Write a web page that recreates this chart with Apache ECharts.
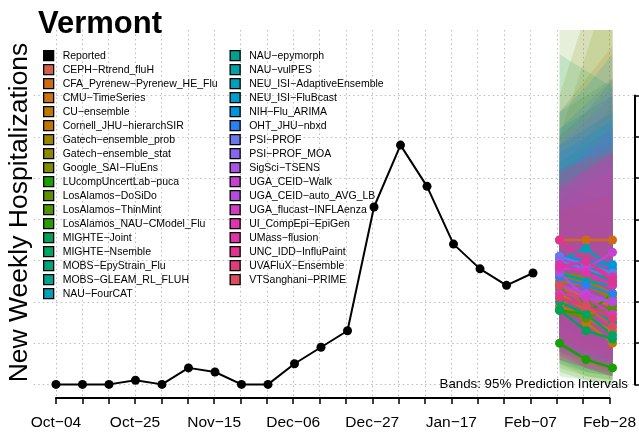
<!DOCTYPE html>
<html>
<head>
<meta charset="utf-8">
<script src="https://cdn.jsdelivr.net/npm/echarts@6/dist/echarts.min.js"></script>
<style>
html, body { margin: 0; padding: 0; background: #ffffff; }
#chart { width: 639px; height: 433px; }
</style>
</head>
<body>
<div id="chart"></div>
<script>
// Week labels (one per weekly tick on the x axis)
const weekLabels = ['Oct−04','Oct−11','Oct−18','Oct−25','Nov−01','Nov−08','Nov−15','Nov−22','Nov−29',
  'Dec−06','Dec−13','Dec−20','Dec−27','Jan−03','Jan−10','Jan−17','Jan−24','Jan−31','Feb−07',
  'Feb−14','Feb−21','Feb−28'];

// Reported weekly hospitalizations, starting at Oct−04
const reported = [0, 0, 0, 1, 0, 4, 3, 0, 0, 5, 9, 13, 43, 58, 48, 34, 28, 24, 27];

// Forecast target weeks (indices into weekLabels)
const forecastWeeks = [19, 20, 21];

// Models, in legend order
const models = [
  'CEPH−Rtrend_fluH','CFA_Pyrenew−Pyrenew_HE_Flu','CMU−TimeSeries','CU−ensemble','Cornell_JHU−hierarchSIR',
  'Gatech−ensemble_prob','Gatech−ensemble_stat','Google_SAI−FluEns','LUcompUncertLab−puca','LosAlamos−DoSiDo',
  'LosAlamos−ThinMint','LosAlamos_NAU−CModel_Flu','MIGHTE−Joint','MIGHTE−Nsemble','MOBS−EpyStrain_Flu',
  'MOBS−GLEAM_RL_FLUH','NAU−FourCAT',
  'NAU−epymorph','NAU−vulPES','NEU_ISI−AdaptiveEnsemble','NEU_ISI−FluBcast','NIH−Flu_ARIMA','OHT_JHU−nbxd',
  'PSI−PROF','PSI−PROF_MOA','SigSci−TSENS','UGA_CEID−Walk','UGA_CEID−auto_AVG_LB','UGA_flucast−INFLAenza',
  'UI_CompEpi−EpiGen','UMass−flusion','UNC_IDD−InfluPaint','UVAFluX−Ensemble','VTSanghani−PRIME'
];

// Median forecasts for Feb−14, Feb−21, Feb−28
const medians = [
  [24, 21, 19], [35, 35, 35], [19, 16, 13], [21, 15, 10], [22, 18, 15],
  [26, 25, 22], [25, 24, 21], [27, 26, 20], [10, 6, 4], [18, 16, 19],
  [23, 20, 18], [18, 17, 22], [18, 13, 11], [20, 17, 12], [28, 29, 26],
  [24, 19, 15], [30, 33, 28],
  [29, 28, 25], [27, 25, 24], [31, 30, 27], [29, 28, 26], [31, 30, 29], [26, 24, 22],
  [31, 29, 27], [30, 28, 26], [27, 21, 20], [28, 28, 32], [24, 22, 20], [22, 21, 17],
  [29, 27, 24], [28.5, 29.8, 26], [35, 30, 25], [21, 19, 16], [24, 19, 14]
];

// 95% prediction interval bounds
const lower95 = [
  [8, 5, 3], [15, 10, 8], [7, 4, 2], [8, 4, 2], [9, 6, 4],
  [10, 7, 5], [11, 8, 6], [9, 6, 3], [2, 1, 0], [4, 2, 1],
  [5, 2, 1], [3, 1, 0], [5, 3, 2], [6, 3, 2], [10, 9, 7],
  [9, 6, 4], [12, 11, 9],
  [10, 8, 6], [9, 7, 5], [10, 8, 6], [9, 7, 6], [8, 6, 4], [8, 6, 5],
  [10, 8, 6], [9, 7, 5], [8, 4, 3], [7, 6, 5], [6, 4, 2], [6, 4, 2],
  [9, 7, 5], [10, 9, 7], [11, 8, 6], [6, 4, 3], [7, 4, 2]
];
const upper95 = [
  [60, 66, 74], [66, 74, 82], [45, 50, 56], [48, 46, 44], [50, 54, 58],
  [70, 90, 110], [52, 60, 68], [60, 80, 100], [44, 42, 40], [66, 70, 74],
  [95, 92, 90], [62, 66, 70], [80, 76, 72], [58, 62, 66], [54, 58, 62],
  [52, 56, 60], [58, 62, 66],
  [54, 58, 62], [52, 56, 60], [56, 60, 64], [56, 60, 64], [66, 72, 80], [62, 68, 74],
  [60, 66, 72], [58, 64, 70], [48, 52, 56], [50, 56, 62], [46, 50, 54], [44, 48, 52],
  [48, 52, 56], [47, 52, 56], [52, 54, 56], [42, 44, 46], [52, 55, 58]
];

// Right-axis tick values
const yTicks = [0, 10, 20, 30, 40, 50, 60, 70];

// Palette, one colour per model
const modelColors = [
  '#D55E4A', '#CF6A14', '#C97214', '#BE7A00', '#C07600',
  '#9C8400', '#8E8700', '#7D8C00', '#17A100', '#5E9000',
  '#4E9400', '#2A9C00', '#00A25A', '#00A465', '#00A47A',
  '#00A48E', '#00A0B4',
  '#00A28F', '#00A2A5', '#00A0BA', '#009DCB', '#0096DD', '#2C7FF0',
  '#6A78EC', '#8766EE', '#A456E2', '#C543D0', '#B64BE0', '#D23BC4',
  '#DE34AF', '#DD35A6', '#E0358F', '#E03C77', '#DB4C5E'
];

const FONT = 'Liberation Sans, Arial, Helvetica, sans-serif';

// Plot region geometry
const plotLeft = 33.7, plotRight = 4.2, plotTop = 30, plotBottom = 35;
const xMin = -0.84, xMax = 21.84;
const yMin = -3.3, yMax = 85.9;
const pxPerWeek = (639 - plotLeft - plotRight) / (xMax - xMin);
const pxPerUnit = (433 - plotTop - plotBottom) / (yMax - yMin);
const axisLeft = plotLeft + (0 - xMin) * pxPerWeek;
const axisRight = 639 - (plotLeft + (weekLabels.length - 1 - xMin) * pxPerWeek);
const yZeroPx = 433 - plotBottom - (0 - yMin) * pxPerUnit;
const yTopTickPx = yZeroPx - yTicks[yTicks.length - 1] * pxPerUnit;

const gridLine = { show: true, lineStyle: { color: '#bdbdbd', width: 1, type: [1.5, 3] } };

const medianSeries = models.map((m, i) => ({
  type: 'line',
  name: m,
  xAxisIndex: 0, yAxisIndex: 0,
  data: forecastWeeks.map((w, k) => [w, medians[i][k]]),
  color: modelColors[i],
  lineStyle: { width: 2.5, color: modelColors[i] },
  itemStyle: { color: modelColors[i], borderWidth: 0 },
  symbol: 'circle', symbolSize: 9, showSymbol: true,
  z: 3, silent: true, animation: false
}));

const bandSeries = {
  type: 'custom',
  name: '95% Prediction Intervals',
  xAxisIndex: 0, yAxisIndex: 0,
  clip: true, silent: true, z: 1, animation: false,
  encode: { x: 0, y: 1 },
  data: models.map((m, i) => [forecastWeeks[0], lower95[i][0], i]),
  renderItem: function (params, api) {
    const i = api.value(2);
    const pts = [];
    forecastWeeks.forEach((w, k) => pts.push(api.coord([w, lower95[i][k]])));
    for (let k = forecastWeeks.length - 1; k >= 0; k--) {
      pts.push(api.coord([forecastWeeks[k], upper95[i][k]]));
    }
    return { type: 'polygon', shape: { points: pts }, style: { fill: modelColors[i], opacity: 0.15 } };
  }
};

const reportedSeries = {
  type: 'line', name: 'Reported',
  xAxisIndex: 0, yAxisIndex: 0,
  data: reported.map((v, i) => [i, v]),
  color: '#000000',
  lineStyle: { width: 2, color: '#000000' },
  itemStyle: { color: '#000000', borderWidth: 0 },
  symbol: 'circle', symbolSize: 9, showSymbol: true,
  z: 4, silent: true, animation: false
};

const legendCommon = {
  orient: 'vertical', padding: 0, icon: 'rect',
  itemWidth: 10, itemHeight: 10, itemGap: 2.7,
  itemStyle: { borderColor: '#000000', borderWidth: 1.3 },
  textStyle: { fontFamily: FONT, fontSize: 10.5, color: '#000000', lineHeight: 11, padding: [0, 0, 0, 4] },
  selectedMode: false, top: 50
};

const chart = echarts.init(document.getElementById('chart'), null, { renderer: 'canvas' });
chart.setOption({
  animation: false,
  backgroundColor: '#ffffff',
  title: {
    text: 'Vermont', left: 33, top: 4,
    textStyle: { fontFamily: FONT, fontSize: 31, fontWeight: 'bold', color: '#000000' }
  },
  legend: [
    Object.assign({}, legendCommon, { left: 43, data: ['Reported'].concat(models.slice(0, 17)) }),
    Object.assign({}, legendCommon, { left: 229.5, data: models.slice(17) })
  ],
  grid: [
    { left: plotLeft, right: plotRight, top: plotTop, bottom: plotBottom },
    { left: axisLeft, right: axisRight, top: plotTop, bottom: plotBottom },
    { left: plotLeft, right: plotRight, top: yTopTickPx, bottom: 433 - yZeroPx }
  ],
  xAxis: [
    { type: 'value', gridIndex: 0, min: xMin, max: xMax, show: false },
    {
      type: 'value', gridIndex: 1, min: 0, max: weekLabels.length - 1, interval: 1, position: 'bottom',
      axisLine: { show: true, onZero: false, lineStyle: { color: '#000000', width: 2 } },
      axisTick: { show: true, inside: false, length: 6, lineStyle: { color: '#000000', width: 1.5 } },
      axisLabel: {
        show: true, margin: 17, fontFamily: FONT, fontSize: 15.5, color: '#000000',
        showMinLabel: true, showMaxLabel: true,
        formatter: v => (v % 3 === 0 ? weekLabels[v] : '')
      },
      splitLine: gridLine
    },
    { type: 'value', gridIndex: 2, min: xMin, max: xMax, show: false }
  ],
  yAxis: [
    { type: 'value', gridIndex: 0, min: yMin, max: yMax, show: false },
    { type: 'value', gridIndex: 1, min: yMin, max: yMax, show: false },
    {
      type: 'value', gridIndex: 2, position: 'right',
      min: yTicks[0], max: yTicks[yTicks.length - 1], interval: yTicks[1] - yTicks[0],
      axisLine: { show: true, onZero: false, lineStyle: { color: '#000000', width: 2 } },
      axisTick: { show: true, inside: false, length: 6, lineStyle: { color: '#000000', width: 1.5 } },
      axisLabel: { show: false },
      splitLine: gridLine
    }
  ],
  graphic: [
    {
      type: 'text', x: 19.8, y: 212.5, rotation: Math.PI / 2,
      style: {
        text: 'New Weekly Hospitalizations', fontFamily: FONT, fontSize: 26.5,
        fill: '#000000', textAlign: 'center', textVerticalAlign: 'middle'
      }
    },
    {
      type: 'text', x: 628, y: 384, z: 10,
      style: {
        text: 'Bands: 95% Prediction Intervals', fontFamily: FONT, fontSize: 13.3,
        fill: '#000000', textAlign: 'right', textVerticalAlign: 'middle'
      }
    }
  ],
  series: [bandSeries].concat(medianSeries, [reportedSeries])
});
</script>
</body>
</html>
